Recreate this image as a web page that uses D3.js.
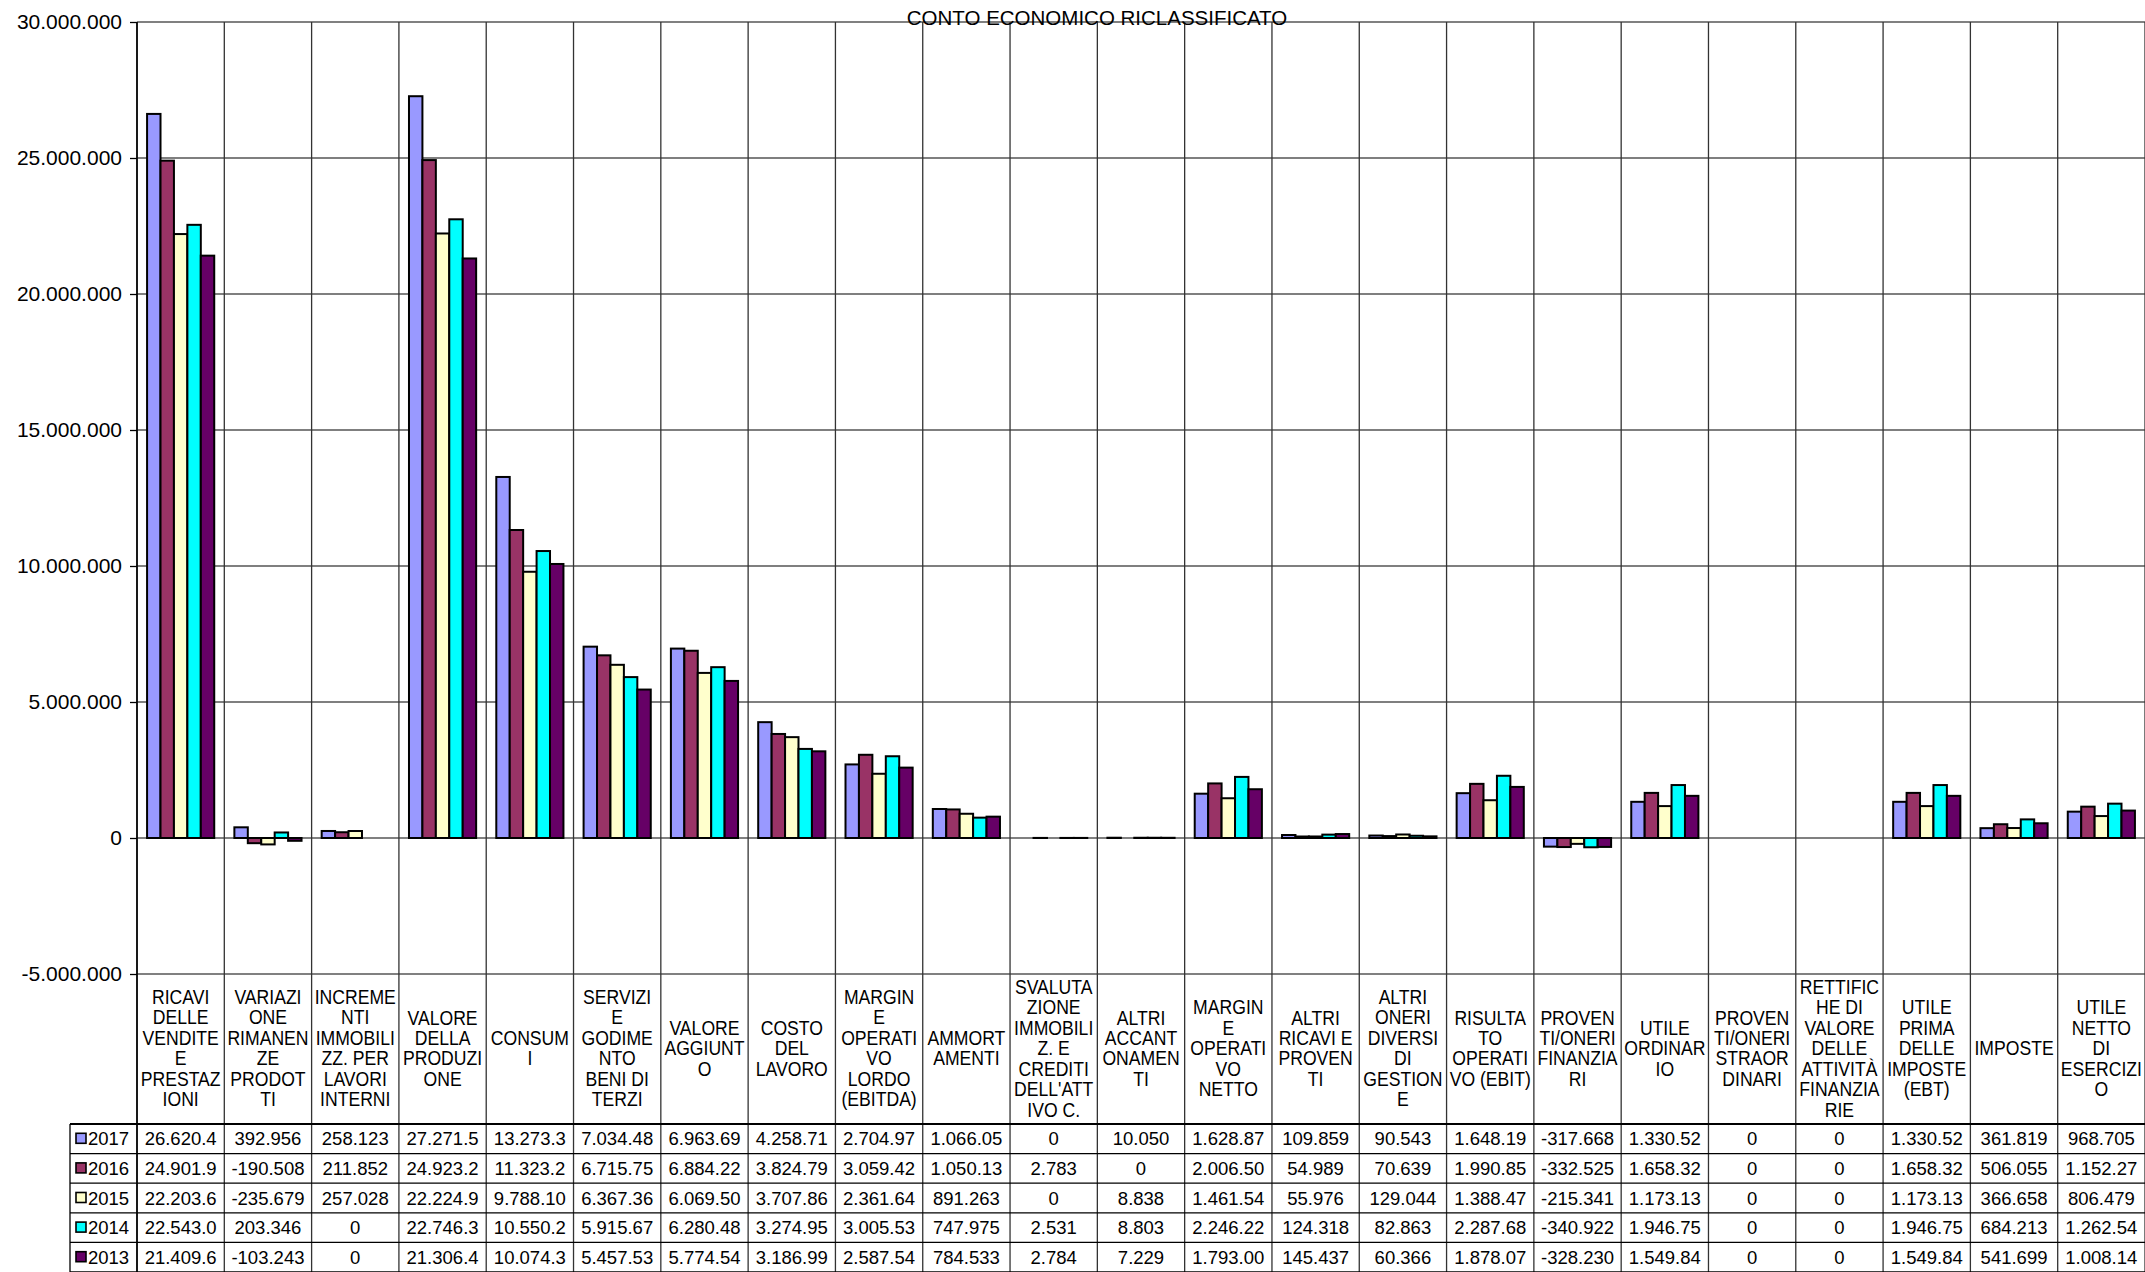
<!DOCTYPE html>
<html>
<head>
<meta charset="utf-8">
<script src="https://cdn.jsdelivr.net/npm/d3@7/dist/d3.min.js"></script>
<style>
  body { margin: 0; background: #fff; }
  text { font-family: Arial, "Liberation Sans", sans-serif; fill: #000; }
</style>
</head>
<body>
<div id="chart"></div>
<script>
// Chart data (values read off the data table, last digits estimated where the cell was truncated)
const chartTitle = "CONTO ECONOMICO RICLASSIFICATO";

const categories = [
  "RICAVI\nDELLE\nVENDITE\nE\nPRESTAZ\nIONI",
  "VARIAZI\nONE\nRIMANEN\nZE\nPRODOT\nTI",
  "INCREME\nNTI\nIMMOBILI\nZZ. PER\nLAVORI\nINTERNI",
  "VALORE\nDELLA\nPRODUZI\nONE",
  "CONSUM\nI",
  "SERVIZI\nE\nGODIME\nNTO\nBENI DI\nTERZI",
  "VALORE\nAGGIUNT\nO",
  "COSTO\nDEL\nLAVORO",
  "MARGIN\nE\nOPERATI\nVO\nLORDO\n(EBITDA)",
  "AMMORT\nAMENTI",
  "SVALUTA\nZIONE\nIMMOBILI\nZ. E\nCREDITI\nDELL'ATT\nIVO C.",
  "ALTRI\nACCANT\nONAMEN\nTI",
  "MARGIN\nE\nOPERATI\nVO\nNETTO",
  "ALTRI\nRICAVI E\nPROVEN\nTI",
  "ALTRI\nONERI\nDIVERSI\nDI\nGESTION\nE",
  "RISULTA\nTO\nOPERATI\nVO (EBIT)",
  "PROVEN\nTI/ONERI\nFINANZIA\nRI",
  "UTILE\nORDINAR\nIO",
  "PROVEN\nTI/ONERI\nSTRAOR\nDINARI",
  "RETTIFIC\nHE DI\nVALORE\nDELLE\nATTIVITÀ\nFINANZIA\nRIE",
  "UTILE\nPRIMA\nDELLE\nIMPOSTE\n(EBT)",
  "IMPOSTE",
  "UTILE\nNETTO\nDI\nESERCIZI\nO"
];

const years = ["2017", "2016", "2015", "2014", "2013"];

const values2017 = [26620400, 392956, 258123, 27271500, 13273300, 7034480, 6963690, 4258710, 2704970, 1066050, 0, 10050, 1628870, 109859, 90543, 1648190, -317668, 1330520, 0, 0, 1330520, 361819, 968705];
const values2016 = [24901900, -190508, 211852, 24923200, 11323200, 6715750, 6884220, 3824790, 3059420, 1050130, 2783, 0, 2006500, 54989, 70639, 1990850, -332525, 1658320, 0, 0, 1658320, 506055, 1152270];
const values2015 = [22203600, -235679, 257028, 22224900, 9788100, 6367360, 6069500, 3707860, 2361640, 891263, 0, 8838, 1461540, 55976, 129044, 1388470, -215341, 1173130, 0, 0, 1173130, 366658, 806479];
const values2014 = [22543000, 203346, 0, 22746300, 10550200, 5915670, 6280480, 3274950, 3005530, 747975, 2531, 8803, 2246220, 124318, 82863, 2287680, -340922, 1946750, 0, 0, 1946750, 684213, 1262540];
const values2013 = [21409600, -103243, 0, 21306400, 10074300, 5457530, 5774540, 3186990, 2587540, 784533, 2784, 7229, 1793000, 145437, 60366, 1878070, -328230, 1549840, 0, 0, 1549840, 541699, 1008140];

const yTicks = [-5000000, 0, 5000000, 10000000, 15000000, 20000000, 25000000, 30000000];

const seriesValues = [values2017, values2016, values2015, values2014, values2013];
const seriesColors = ["#9999FF", "#993366", "#FFFFCC", "#00FFFF", "#660066"];

// Layout
const width = 2145, height = 1272;
const plotLeft = 137, plotRight = 2145;
const plotTop = 22, plotBottom = 974;
const labelBottom = 1124;
const rowH = 29.6;
const legendLeft = 70;

const svg = d3.select("#chart").append("svg")
  .attr("width", width)
  .attr("height", height);

const x = d3.scaleBand()
  .domain(d3.range(categories.length))
  .range([plotLeft, plotRight])
  .paddingInner(0)
  .paddingOuter(0);

const x1 = d3.scaleBand()
  .domain(years)
  .range([0, x.bandwidth()])
  .paddingInner(0)
  .paddingOuter(0.75);

const y = d3.scaleLinear()
  .domain([-5000000, 30000000])
  .range([plotBottom, plotTop]);

// number formatting like the Excel sheet: dot as thousands separator, cell clips to 8 chars
const fmtDots = v => d3.format(",")(v).replace(/,/g, ".").replace("−", "-");
const fmtCell = v => fmtDots(v).slice(0, 8);

// Horizontal gridlines
svg.append("g")
  .selectAll("line")
  .data(yTicks)
  .enter()
  .append("line")
  .attr("x1", plotLeft)
  .attr("x2", plotRight)
  .attr("y1", d => y(d))
  .attr("y2", d => y(d))
  .attr("stroke", d => (d === 0 || d === 30000000 || d === -5000000) ? "#808080" : "#000")
  .attr("stroke-width", d => (d === 0 || d === 30000000 || d === -5000000) ? 2 : 1.2);

// Vertical category lines (run through plot, labels and table)
const bounds = d3.range(categories.length + 1).map(i => plotLeft + i * x.step());
svg.append("g")
  .selectAll("line")
  .data(bounds)
  .enter()
  .append("line")
  .attr("x1", d => d)
  .attr("x2", d => d)
  .attr("y1", plotTop)
  .attr("y2", height)
  .attr("stroke", "#333")
  .attr("stroke-width", 1.3);

// Y axis
const yAxis = d3.axisLeft(y)
  .tickValues(yTicks)
  .tickSize(7)
  .tickPadding(8)
  .tickFormat(fmtDots);

const yAxisG = svg.append("g")
  .attr("transform", `translate(${plotLeft},0)`)
  .call(yAxis);
yAxisG.select(".domain").remove();
yAxisG.selectAll(".tick line").attr("stroke", "#000").attr("stroke-width", 1.3);
yAxisG.selectAll(".tick text")
  .style("font-size", "21px")
  .style("font-family", "Arial, 'Liberation Sans', sans-serif")
  .attr("fill", "#000");

svg.append("line")
  .attr("x1", plotLeft).attr("x2", plotLeft)
  .attr("y1", plotTop).attr("y2", height)
  .attr("stroke", "#000")
  .attr("stroke-width", 1.6);

// Bars
const barGroups = svg.append("g")
  .selectAll("g")
  .data(years)
  .enter()
  .append("g")
  .attr("fill", (d, i) => seriesColors[i]);

barGroups.selectAll("rect")
  .data((yr, si) => seriesValues[si].map((v, ci) => ({ yr, v, ci })).filter(d => d.v !== 0))
  .enter()
  .append("rect")
  .attr("x", d => x(d.ci) + x1(d.yr))
  .attr("width", x1.bandwidth())
  .attr("y", d => y(Math.max(0, d.v)))
  .attr("height", d => Math.abs(y(d.v) - y(0)))
  .attr("stroke", "#000")
  .attr("stroke-width", 2);

// Title
svg.append("text")
  .attr("x", 1097)
  .attr("y", 25)
  .attr("text-anchor", "middle")
  .style("font-size", "20.5px")
  .text(chartTitle);

// Category labels
const lineH = 20.5;
const labelMid = (plotBottom + labelBottom) / 2;
const labelG = svg.append("g");
categories.forEach((c, i) => {
  const lines = c.split("\n");
  const cx = x(i) + x.bandwidth() / 2;
  const top = labelMid - lines.length * lineH / 2;
  const t = labelG.append("text")
    .attr("transform", `translate(${cx},${top}) scale(0.88,1)`)
    .attr("text-anchor", "middle")
    .style("font-size", "20px");
  lines.forEach((ln, k) => {
    t.append("tspan")
      .attr("x", 0)
      .attr("y", (k + 1) * lineH - 4)
      .text(ln);
  });
});

// Data table
const tableG = svg.append("g");
d3.range(years.length + 1).forEach(r => {
  tableG.append("line")
    .attr("x1", legendLeft).attr("x2", plotRight)
    .attr("y1", labelBottom + r * rowH).attr("y2", labelBottom + r * rowH)
    .attr("stroke", "#000")
    .attr("stroke-width", r === 0 ? 1.8 : 1.3);
});
tableG.append("line")
  .attr("x1", legendLeft).attr("x2", legendLeft)
  .attr("y1", labelBottom).attr("y2", height)
  .attr("stroke", "#000")
  .attr("stroke-width", 1.3);

years.forEach((yr, r) => {
  const cy = labelBottom + r * rowH + rowH / 2;
  tableG.append("rect")
    .attr("x", legendLeft + 6)
    .attr("y", cy - 5.5)
    .attr("width", 10)
    .attr("height", 10)
    .attr("fill", seriesColors[r])
    .attr("stroke", "#000")
    .attr("stroke-width", 1.6);
  tableG.append("text")
    .attr("x", legendLeft + 18)
    .attr("y", cy + 6.5)
    .style("font-size", "18.5px")
    .text(yr);
  seriesValues[r].forEach((v, ci) => {
    tableG.append("text")
      .attr("x", x(ci) + x.bandwidth() / 2)
      .attr("y", cy + 6.5)
      .attr("text-anchor", "middle")
      .style("font-size", "18.5px")
      .text(fmtCell(v));
  });
});
</script>
</body>
</html>
